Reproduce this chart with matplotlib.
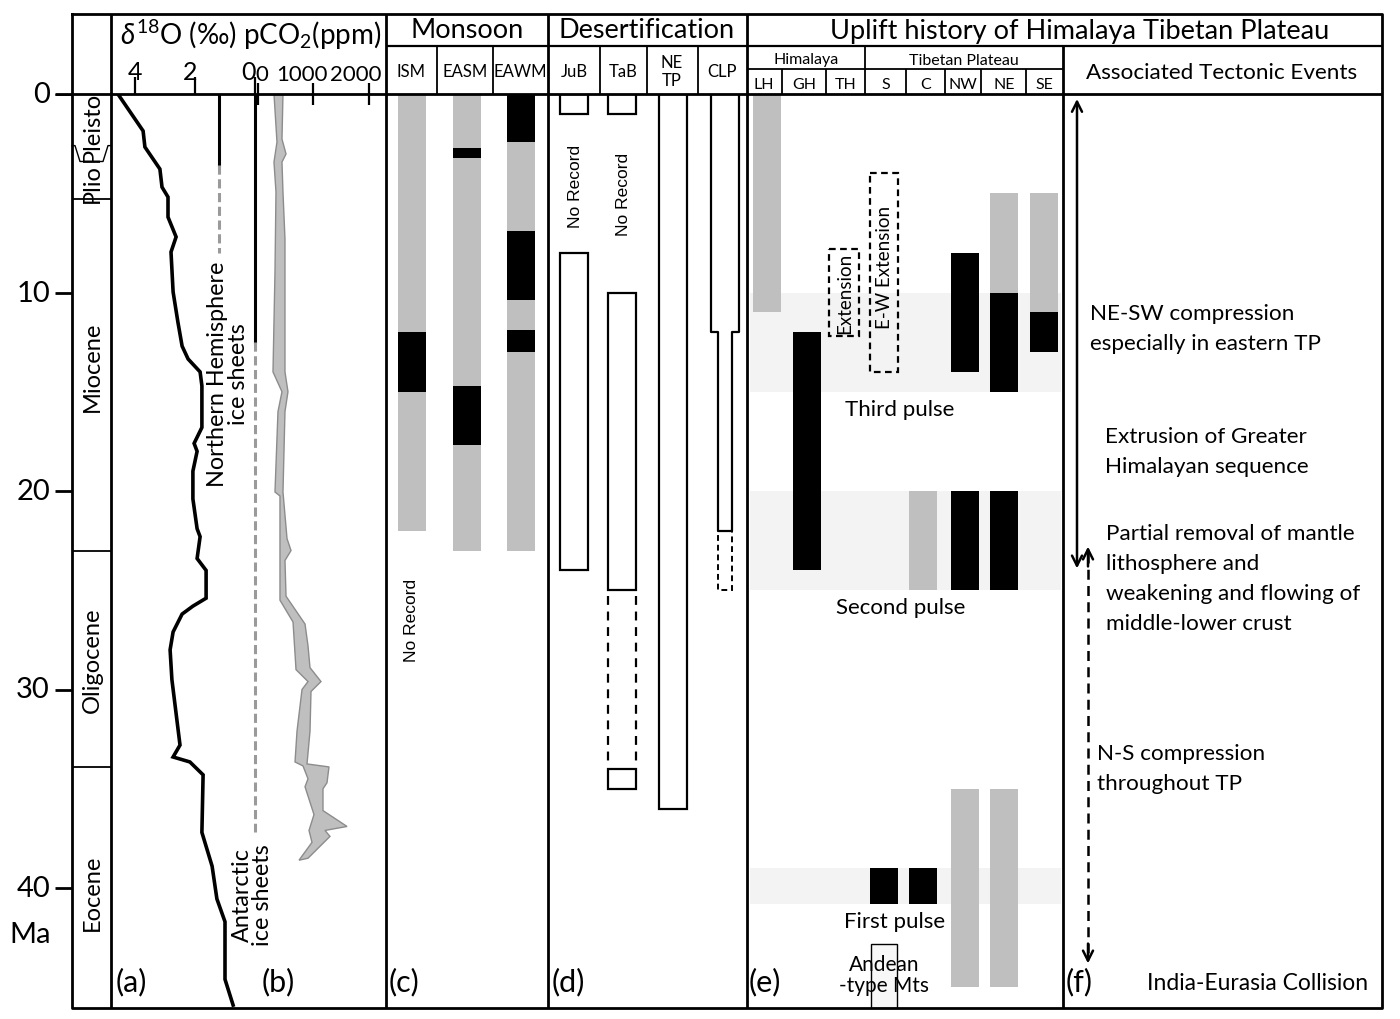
import numpy as np
import matplotlib
matplotlib.use('Agg')
from matplotlib import pyplot as plt
from matplotlib.transforms import ScaledTranslation

plt.rcParams['font.family'] = ['Lato', 'DejaVu Sans']
plt.rcParams['mathtext.fontset'] = 'custom'
plt.rcParams['mathtext.rm'] = 'Lato'
plt.rcParams['mathtext.it'] = 'Lato:italic'

# ---- age scale / epochs (Ma) ----
MA_TICKS = [0, 10, 20, 30, 40]
EPOCH_BOUNDS = [5.3, 23.0, 33.9]
PLIO_PLEISTO = 2.6
EPOCH_NAMES = ['Pleisto', 'Plio', 'Miocene', 'Oligocene', 'Eocene']
EPOCH_MID = [1.6, 4.45, 13.7, 28.5, 40.2]

# ---- (a) benthic d18O ----
D18O_AGE = [0, 1.86, 2.67, 3.78, 4.69, 5.19, 6.2, 7.2, 7.96, 9.97, 11.49, 12.7, 13.35, 14.0,
            14.7, 16.8, 17.6, 18.0, 19.0, 20.4, 21.9, 22.3, 23.4, 24.0, 25.4, 25.8, 26.2, 27.1,
            28.0, 29.5, 32.8, 33.4, 33.65, 34.3, 37.2, 38.9, 40.55, 41.7, 44.6, 45.9]
D18O_VAL = [4.57, 3.73, 3.67, 3.17, 3.10, 2.90, 2.90, 2.63, 2.80, 2.73, 2.57, 2.43, 2.23, 1.83,
            1.77, 1.77, 2.03, 1.93, 2.07, 2.07, 1.93, 1.83, 1.93, 1.63, 1.63, 2.07, 2.43, 2.73,
            2.83, 2.77, 2.50, 2.73, 2.17, 1.73, 1.77, 1.43, 1.27, 1.0, 1.0, 0.73]
D18O_TICKS = [4, 2, 0]

# ice sheets: (solid end, dashed end) in Ma
NH_ICE = [3.6, 8.0]
ANT_ICE = [12.5, 37.2]

# ---- (b) pCO2 envelope ----
CO2_HI_AGE = [0, 2.27, 3.02, 3.43, 4.94, 7.3, 14.0, 15.0, 16.0, 20.05, 22.4, 23.0, 23.5, 25.3,
              26.7, 27.8, 28.9, 29.6, 30.1, 32.1, 33.75, 33.9, 34.7, 35.0, 36.1, 36.9, 37.1,
              37.4, 38.5]
CO2_HI = [450, 432, 505, 432, 450, 486, 486, 540, 486, 450, 523, 595, 486, 505,
          847, 901, 937, 1135, 955, 937, 883, 1279, 1243, 1171, 1171, 1604, 1207,
          1297, 901]
CO2_LO_AGE = [0, 2.42, 3.43, 4.94, 8.97, 14.0, 15.0, 16.0, 20.05, 20.25, 23.4, 25.5, 26.6,
              29.0, 29.6, 30.0, 32.1, 33.65, 33.85, 34.5, 34.9, 36.3, 37.1, 37.7, 38.6]
CO2_LO = [288, 342, 288, 324, 306, 270, 432, 360, 306, 396, 396, 396, 631,
          685, 901, 793, 703, 667, 811, 901, 847, 1009, 919, 973, 739]
CO2_TICKS = [0, 1000, 2000]

# ---- (c) monsoon: segment edges (Ma) and state ----
ISM_EDGES = [0, 12, 15, 22]
ISM_KINDS = ['on', 'strong', 'on']
EASM_EDGES = [0, 2.7, 3.2, 14.7, 17.7, 23]
EASM_KINDS = ['on', 'strong', 'on', 'strong', 'on']
EAWM_EDGES = [0, 2.4, 6.9, 10.4, 11.9, 13.0, 23]
EAWM_KINDS = ['strong', 'on', 'strong', 'on', 'strong', 'on']

# ---- (d) desertification records (Ma) ----
JUB_REC = [(0, 1), (8, 24)]
TAB_REC = [(0, 1), (10, 25), (34, 35)]
TAB_UNCERTAIN = (25, 34)
NETP_REC = [(0, 36)]
CLP_WIDE = (0, 12)
CLP_NARROW = (12, 22)
CLP_UNCERTAIN = (22, 25)

# ---- (e) uplift ----
LH_SEGS = [(0, 11, 'on')]
GH_SEGS = [(12, 24, 'strong')]
S_SEGS = [(39, 40.8, 'strong')]
C_SEGS = [(20, 25, 'on'), (39, 40.8, 'strong')]
NW_SEGS = [(8, 14, 'strong'), (20, 25, 'strong'), (35, 45, 'on')]
NE_SEGS = [(5, 10, 'on'), (10, 15, 'strong'), (20, 25, 'strong'), (35, 45, 'on')]
SE_SEGS = [(5, 11, 'on'), (11, 13, 'strong')]
TH_EXTENSION = (7.8, 12.2)
S_EXTENSION = (4.0, 14.0)
ANDEAN = (42.8, 46.05)
PULSES = [(39.0, 40.8), (20.0, 25.0), (10.0, 15.0)]
PULSE_NAMES = ['First pulse', 'Second pulse', 'Third pulse']

# ---- (f) tectonic events ----
EVENT_TEXT = ['NE-SW compression\nespecially in eastern TP',
              'Extrusion of Greater\nHimalayan sequence',
              'Partial removal of mantle\nlithosphere and\nweakening and flowing of\nmiddle-lower crust',
              'N-S compression\nthroughout TP']
EVENT_AGE = [11.8, 18.0, 24.4, 33.95]
EVENT_X = [1090, 1105, 1106, 1097]
ARROW_SOLID = (0.25, 23.9)
ARROW_DASHED = (22.8, 43.8)

# ---------------- layout (pixels) ----------------
W, H = 1400, 1020
TOP, ZERO, BOT = 15, 95, 1009
PX_MA = 19.85
MA_MAX = (BOT - ZERO) / PX_MA
KIND_COLOR = {'on': '#bfbfbf', 'strong': 'black'}
BW = 28

fig = plt.figure(figsize=(14, 10.2), dpi=100, facecolor='w')


def data_axes(x0, x1):
    a = fig.add_axes([x0 / W, (H - BOT) / H, (x1 - x0) / W, (BOT - ZERO) / H])
    a.set_ylim(MA_MAX, 0)
    a.set_facecolor('none')
    return a


ax = data_axes(0, W)
ax.set_xlim(0, W)
ax.axis('off')


def seg_bars(xc, segs):
    for top, bot, k in segs:
        ax.bar(xc, bot - top, bottom=top, width=BW, color=KIND_COLOR[k], linewidth=0, zorder=2)


def edge_bars(xc, edges, kinds):
    seg_bars(xc, list(zip(edges[:-1], edges[1:], kinds)))


def boxes(xc, recs, width=BW, ls='-', lw=1.6):
    for top, bot in recs:
        ax.bar(xc, bot - top, bottom=top, width=width, fill=False, edgecolor='k',
               linewidth=lw, linestyle=ls, zorder=3)


def shift_label(lab, dx_px):
    lab.set_transform(lab.get_transform() + ScaledTranslation(dx_px / 100, 0, fig.dpi_scale_trans))


# age ticks and epochs
ax.hlines(MA_TICKS, 55, 72, color='k', lw=2)
for t in MA_TICKS:
    ax.text(50, t, str(t), ha='right', va='center', fontsize=21)
ax.text(30, 42.3, 'Ma', ha='center', va='center', fontsize=21)
ax.hlines(EPOCH_BOUNDS, 72, 111, color='k', lw=1.3)
pp = PLIO_PLEISTO
ax.plot([72, 75, 80, 103, 108, 111], [pp, pp, pp + 0.8, pp + 0.8, pp, pp], color='k', lw=1)
for name, mid in zip(EPOCH_NAMES, EPOCH_MID):
    ax.text(92, mid, name, rotation=90, ha='center', va='center', fontsize=17)

# (a)/(b) curves
axd = data_axes(111, 386)
axd.set_xlim((255 - 111) / 30, (255 - 386) / 30)
axd.plot(D18O_VAL, D18O_AGE, color='k', lw=2.6, solid_joinstyle='miter')
axd.plot([1.2, 1.2], [0, NH_ICE[0]], color='k', lw=2.2)
axd.plot([1.2, 1.2], NH_ICE, color='#9a9a9a', lw=2.2, ls=(0, (3, 1.5)))
axd.plot([0, 0], [0, ANT_ICE[0]], color='k', lw=2.2)
axd.plot([0, 0], ANT_ICE, color='#9a9a9a', lw=2.2, ls=(0, (3, 1.5)))
axd.text(0.9, 14.05, 'Northern Hemisphere\nice sheets', rotation=90, ha='center', va='center',
         fontsize=16.8, linespacing=0.95)
axd.text(0.08, 40.3, 'Antarctic\nice sheets', rotation=90, ha='center', va='center',
         fontsize=16.8, linespacing=0.95)
axd.set_yticks([])
for s in axd.spines.values():
    s.set_visible(False)

axc = axd.twiny()
axc.set_xlim((111 - 258) / 0.0555, (386 - 258) / 0.0555)
axc.set_ylim(MA_MAX, 0)
co2_x = CO2_HI + CO2_LO[::-1]
co2_y = CO2_HI_AGE + CO2_LO_AGE[::-1]
axc.fill(co2_x, co2_y, facecolor='#bfbfbf', edgecolor='#8c8c8c', lw=1)
axc.set_xticks(CO2_TICKS)
axc.set_xticklabels([str(v) for v in CO2_TICKS])
axc.tick_params(axis='x', direction='inout', length=16, width=1.6, pad=-1, labelsize=16)
for s in axc.spines.values():
    s.set_visible(False)

# twiny resets the original axis to the bottom, so set it here
axd.xaxis.tick_top()
axd.set_xticks(D18O_TICKS)
axd.set_xticklabels([str(v) for v in D18O_TICKS])
axd.tick_params(axis='x', direction='out', length=12, width=1.6, pad=-4, labelsize=18)
for lab, dx in zip(axd.get_xticklabels(), [0, -5, -6]):
    shift_label(lab, dx)
for lab, dx in zip(axc.get_xticklabels(), [4, -12, -13]):
    shift_label(lab, dx)

# (c) monsoon
edge_bars(412, ISM_EDGES, ISM_KINDS)
edge_bars(467, EASM_EDGES, EASM_KINDS)
edge_bars(521, EAWM_EDGES, EAWM_KINDS)
ax.text(412, 26.45, 'No Record', rotation=90, ha='center', va='center', fontsize=12.5,
        family='Liberation Sans')

# (d) desertification
boxes(574, JUB_REC)
boxes(622, TAB_REC)
ax.vlines([608, 636], TAB_UNCERTAIN[0] + 0.3, TAB_UNCERTAIN[1] - 0.2, color='k', lw=1.6,
          linestyle=(0, (4, 3)))
boxes(673, NETP_REC)
wt, wb = CLP_WIDE
nt, nb = CLP_NARROW
ax.plot([711, 711, 718, 718, 732, 732, 739, 739], [wt, wb, wb, nb, nb, wb, wb, wt], color='k',
        lw=1.6, zorder=3)
boxes(725, [CLP_UNCERTAIN], width=14, ls=(0, (3, 2)), lw=1.4)
ax.text(575, 4.6, 'No Record', rotation=90, ha='center', va='center', fontsize=12.5,
        family='Liberation Sans')
ax.text(623, 5.0, 'No Record', rotation=90, ha='center', va='center', fontsize=12.5,
        family='Liberation Sans')

# (e) uplift
for (top, bot), name, x in zip(PULSES, PULSE_NAMES, [895, 901, 900]):
    ax.bar(905.5, bot - top, bottom=top, width=311, color='#f3f3f3', linewidth=0, zorder=1)
    ax.text(x, bot + 0.85, name, ha='center', va='center', fontsize=16)
seg_bars(767, LH_SEGS)
seg_bars(806.5, GH_SEGS)
seg_bars(884, S_SEGS)
seg_bars(923, C_SEGS)
seg_bars(965, NW_SEGS)
seg_bars(1004, NE_SEGS)
seg_bars(1044, SE_SEGS)
boxes(844, [TH_EXTENSION], width=30, ls=(0, (3, 2)), lw=1.6)
boxes(884, [S_EXTENSION], width=28, ls=(0, (3, 2)), lw=1.6)
ax.text(845, sum(TH_EXTENSION) / 2, 'Extension', rotation=90, ha='center', va='center',
        fontsize=13.5)
ax.text(884.5, 8.7, 'E-W Extension', rotation=90, ha='center', va='center', fontsize=13.5)
ax.bar(884, ANDEAN[1] - ANDEAN[0], bottom=ANDEAN[0], width=26, color='#f7f7f7',
       edgecolor='k', linewidth=1, zorder=2)
ax.text(884, 44.35, 'Andean\n-type Mts', ha='center', va='center', fontsize=15,
        linespacing=1.05, zorder=4)

# (f) tectonic events
for txt, age, x in zip(EVENT_TEXT, EVENT_AGE, EVENT_X):
    ax.text(x, age, txt, ha='left', va='center', fontsize=16.2, linespacing=1.62)
ax.text(1147, 44.75, 'India-Eurasia Collision', ha='left', va='center', fontsize=16.5)
ax.annotate('', xy=(1077, ARROW_SOLID[0]), xytext=(1077, ARROW_SOLID[1]),
            arrowprops=dict(arrowstyle='<->', lw=1.8, mutation_scale=18, color='k',
                            shrinkA=0, shrinkB=0))
ax.vlines(1088, ARROW_DASHED[0] + 0.3, ARROW_DASHED[1] - 0.3, color='k', lw=1.8,
          linestyle=(0, (4, 2.5)))
ax.annotate('', xy=(1088, ARROW_DASHED[0]), xytext=(1088, ARROW_DASHED[0] + 1.0),
            arrowprops=dict(arrowstyle='->', lw=1.8, mutation_scale=18, color='k',
                            shrinkA=0, shrinkB=0))
ax.annotate('', xy=(1088, ARROW_DASHED[1]), xytext=(1088, ARROW_DASHED[1] - 1.0),
            arrowprops=dict(arrowstyle='->', lw=1.8, mutation_scale=18, color='k',
                            shrinkA=0, shrinkB=0))

# panel letters
for lab, x in zip(['(a)', '(b)', '(c)', '(d)', '(e)', '(f)'], [116, 262, 389, 552, 749, 1066]):
    ax.text(x, 44.7, lab, ha='left', va='center', fontsize=22)

# ---------------- frame and headers (pixel coords) ----------------
lay = fig.add_axes([0, 0, 1, 1], zorder=5)
lay.set_xlim(0, W)
lay.set_ylim(H, 0)
lay.axis('off')
lay.set_facecolor('none')
LW = 2.0
lay.plot([72, 1382, 1382, 72, 72], [TOP, TOP, BOT, BOT, TOP], color='k', lw=LW)
lay.vlines([111, 386, 548, 747], TOP, BOT, color='k', lw=LW)
lay.vlines(1063, 47, BOT, color='k', lw=LW)
lay.hlines(ZERO, 55, 1382, color='k', lw=LW)
lay.hlines(47, 386, 1382, color='k', lw=1.6)
lay.vlines([437, 493, 600, 647, 698, 865], 47, ZERO, color='k', lw=1.3)
lay.hlines(70, 747, 1063, color='k', lw=1.3)
lay.vlines([782, 826, 906, 945, 981, 1026], 70, ZERO, color='k', lw=1.3)

lay.text(251, 35, r'$\delta^{18}$O (‰) pCO$_2$(ppm)', ha='center', va='center', fontsize=20)
lay.text(467, 31, 'Monsoon', ha='center', va='center', fontsize=19.5)
lay.text(647, 31, 'Desertification', ha='center', va='center', fontsize=19.5)
lay.text(1080, 31, 'Uplift history of Himalaya Tibetan Plateau', ha='center', va='center',
         fontsize=19.5)
for lab, x in zip(['ISM', 'EASM', 'EAWM', 'JuB', 'TaB', 'NE\nTP', 'CLP'],
                  [411, 465, 520, 574, 623, 672, 722]):
    lay.text(x, 72, lab, ha='center', va='center', fontsize=12, linespacing=1.15)
lay.text(806, 60, 'Himalaya', ha='center', va='center', fontsize=11.5)
lay.text(964, 61, 'Tibetan Plateau', ha='center', va='center', fontsize=11.5)
for lab, x in zip(['LH', 'GH', 'TH', 'S', 'C', 'NW', 'NE', 'SE'],
                  [764, 804, 846, 886, 926, 963, 1004, 1044]):
    lay.text(x, 85, lab, ha='center', va='center', fontsize=11.5)
lay.text(1222, 73, 'Associated Tectonic Events', ha='center', va='center', fontsize=16.2)

fig.savefig('out.png', dpi=100, facecolor='w')
